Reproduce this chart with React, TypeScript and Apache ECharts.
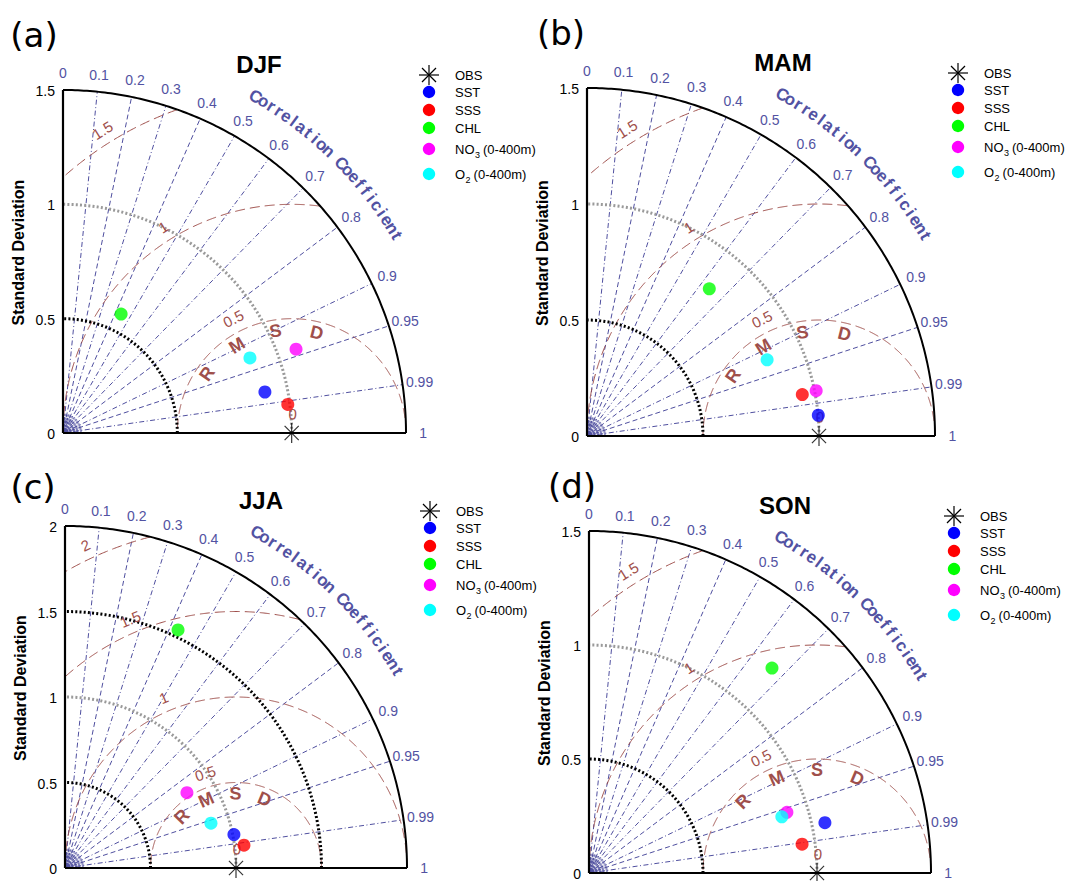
import React, { useEffect, useRef } from 'react';
import * as echarts from 'echarts';

// ---------------- data ----------------
const panelLabels = ['(a)', '(b)', '(c)', '(d)'];
const seasons = ['DJF', 'MAM', 'JJA', 'SON'];
const variableNames = ['SST', 'SSS', 'CHL', 'NO3', 'O2'];
const variableColors = ['#0000ff', '#ff0000', '#00ff00', '#ff00ff', '#00ffff'];
const obsName = 'OBS';
const obsStd = 1;
const stdMax = [1.5, 1.5, 2, 1.5];
const stdTicksSmall = [0, 0.5, 1, 1.5];
const stdTicksLarge = [0, 0.5, 1, 1.5, 2];
const stdTicks = [stdTicksSmall, stdTicksSmall, stdTicksLarge, stdTicksSmall];
const corrTicks = [0, 0.1, 0.2, 0.3, 0.4, 0.5, 0.6, 0.7, 0.8, 0.9, 0.95, 0.99, 1];
const corrTickLabels = ['0', '0.1', '0.2', '0.3', '0.4', '0.5', '0.6', '0.7', '0.8', '0.9', '0.95', '0.99', '1'];
const rmsdSmall = [0.5, 1, 1.5];
const rmsdLarge = [0.5, 1, 1.5, 2];
const rmsdLevels = [rmsdSmall, rmsdSmall, rmsdLarge, rmsdSmall];

// standard deviation (normalised) and correlation for SST, SSS, CHL, NO3, O2
const djfStd = [0.901, 0.991, 0.579, 1.083, 0.881];
const djfCorr = [0.980, 0.992, 0.439, 0.941, 0.928];
const mamStd = [1.001, 0.945, 0.825, 1.007, 0.843];
const mamCorr = [0.996, 0.982, 0.639, 0.981, 0.921];
const jjaStd = [1.007, 1.055, 1.541, 0.838, 0.893];
const jjaCorr = [0.981, 0.992, 0.429, 0.851, 0.956];
const sonStd = [1.058, 0.943, 1.205, 0.908, 0.881];
const sonCorr = [0.978, 0.991, 0.666, 0.956, 0.960];
const panelStd = [djfStd, mamStd, jjaStd, sonStd];
const panelCorr = [djfCorr, mamCorr, jjaCorr, sonCorr];

// legend labels: [base, subscript, suffix]
const legendLabels = [
  [obsName, '', ''],
  ['SST', '', ''],
  ['SSS', '', ''],
  ['CHL', '', ''],
  ['NO', '3', '(0-400m)'],
  ['O', '2', '(0-400m)'],
];

// ---------------- layout / style ----------------
const gridLeft = [63, 587, 65, 589];
const gridTop = [90, 88, 526, 531];
const gridSide = [343, 348, 342, 342];
const panelLabelPos = [[34, 35], [561, 33], [33, 487], [572, 486]];
const rmsdLabelAngles = [[117, 122, 122], [116, 122, 122], [108, 113, 113, 115], [116, 122, 122]];
const rmsdLetterStart = [145, 145, 136.5, 136];
const legendRowDy = [-15, 2, 20, 38, 59, 84];

const FONT = '"Liberation Sans", Arial, Helvetica, sans-serif';
const LINE_BLUE = '#4f4f9f';
const LABEL_BLUE = '#5252a2';
const BROWN = '#9f4f4b';

let measureCtx: CanvasRenderingContext2D | null = null;
function textWidth(t: string, font: string) {
  if (!measureCtx) measureCtx = document.createElement('canvas').getContext('2d');
  if (!measureCtx) return t.length * 7;
  measureCtx.font = font;
  return measureCtx.measureText(t).width;
}

function furniture(p: number) {
  return (_params: any, api: any) => {
    const o = api.coord([0, 0]);
    const unit = api.coord([1, 0])[0] - o[0];
    const Rm = stdMax[p];
    const R = Rm * unit;
    const obs = api.coord([obsStd, 0]);
    const rad = (d: number) => (d * Math.PI) / 180;
    const at = (c: number[], r: number, deg: number) => [c[0] + r * Math.cos(rad(deg)), c[1] - r * Math.sin(rad(deg))];
    const els: any[] = [];
    const line = (a: number[], b: number[], stroke: string, lineWidth: number, lineDash?: number[]) =>
      els.push({ type: 'line', shape: { x1: a[0], y1: a[1], x2: b[0], y2: b[1] }, style: { stroke, lineWidth, lineDash, fill: 'none' } });
    const poly = (points: number[][], stroke: string, lineWidth: number, lineDash?: number[]) =>
      els.push({ type: 'polyline', shape: { points }, style: { stroke, lineWidth, lineDash, fill: 'none' } });
    const text = (pos: number[], str: string, font: string, fill: string, align = 'center', rotDeg = 0, vAlign = 'middle') =>
      els.push({
        type: 'text', x: pos[0], y: pos[1], rotation: rad(rotDeg),
        style: { text: str, font, fill, align, verticalAlign: vAlign, textAlign: align, textVerticalAlign: vAlign },
      });

    // fan near origin
    for (let d = 0; d <= 90; d += 3) line(at(o, 3, d), at(o, 20, d), LINE_BLUE, 0.7, [2, 1.5]);
    els.push({ type: 'sector', shape: { cx: o[0], cy: o[1], r0: 0, r: 6, startAngle: -Math.PI / 2, endAngle: 0, clockwise: true }, style: { fill: LINE_BLUE } });

    // correlation lines
    corrTicks.forEach((c, i) => {
      if (c <= 0 || c >= 1) return;
      const deg = (Math.acos(c) * 180) / Math.PI;
      const dashed = i === 2 || i === 4 || i === 8 || i === 10;
      line(o, at(o, R, deg), LINE_BLUE, 1, dashed ? [5, 3] : [5, 2.5, 1, 2.5]);
    });

    // RMSD arcs
    rmsdLevels[p].forEach((L) => {
      const pts: number[][] = [];
      for (let f = 0; f <= 180; f += 0.25) {
        const x = obsStd + L * Math.cos(rad(f));
        const y = L * Math.sin(rad(f));
        if (x >= -1e-9 && x * x + y * y <= Rm * Rm + 1e-9) pts.push(api.coord([x, y]));
      }
      poly(pts, BROWN, 1, [10, 5]);
    });

    // std arcs
    stdTicks[p].forEach((s) => {
      if (s <= 0 || s >= Rm) return;
      const pts: number[][] = [];
      for (let d = 0; d <= 90; d += 1) pts.push(at(o, s * unit, d));
      poly(pts, s === obsStd ? '#9a9a9a' : '#000000', 3, [2, 2.2]);
    });

    // outer arc and axes
    const outer: number[][] = [];
    for (let d = 0; d <= 90; d += 0.5) outer.push(at(o, R, d));
    poly(outer, '#000', 2);
    line(o, at(o, R, 90), '#000', 2.2);
    line(o, at(o, R, 0), '#000', 2.2);

    // std labels
    stdTicks[p].forEach((s) => text([o[0] - 8, o[1] - s * unit + 1], String(s), `14px ${FONT}`, '#000', 'right'));
    text([o[0] - 45, o[1] - R / 2 - 9], 'Standard Deviation', `bold 16px ${FONT}`, '#000', 'center', 90);

    // correlation labels
    corrTicks.forEach((c, i) => {
      const deg = (Math.acos(c) * 180) / Math.PI;
      text(at(o, 1.05 * R, deg), corrTickLabels[i], `14px ${FONT}`, LABEL_BLUE);
    });
    const title = 'Correlation Coefficient'.split('');
    const step = (60.2 - 30.6) / (title.length - 1);
    title.forEach((ch, k) => {
      const deg = 60.2 - k * step;
      text(at(o, 1.13 * R, deg), ch, `bold 17px ${FONT}`, LABEL_BLUE, 'center', deg - 90);
    });

    // RMSD labels
    rmsdLevels[p].forEach((L, j) => {
      const th = rmsdLabelAngles[p][j];
      text(at(obs, L * unit + 14, th), String(L), `15px ${FONT}`, BROWN, 'center', th - 90);
    });
    'RMSD'.split('').forEach((ch, k) => {
      const th = rmsdLetterStart[p] - 23 * k;
      text(at(obs, 0.5 * unit - 11, th), ch, `bold 18px ${FONT}`, BROWN, 'center', th - 90);
    });
    text(at(obs, 19, 87), '0', `15px ${FONT}`, BROWN, 'center', -3);

    // panel title
    text([o[0] + 196, o[1] - R - 26], seasons[p], `bold 24px ${FONT}`, '#000');

    // legend
    const lx = o[0] + R + 23;
    const tx = o[0] + R + 49;
    const top = o[1] - R;
    const sy = top + legendRowDy[0];
    line([lx, sy - 10], [lx, sy + 10], '#000', 1.2);
    line([lx - 10, sy], [lx + 10, sy], '#000', 1.2);
    line([lx - 7, sy - 7], [lx + 7, sy + 7], '#000', 1.2);
    line([lx - 7, sy + 7], [lx + 7, sy - 7], '#000', 1.2);
    variableNames.forEach((_n, v) => {
      els.push({ type: 'circle', shape: { cx: lx, cy: top + legendRowDy[v + 1], r: 6.2 }, style: { fill: variableColors[v] } });
    });
    legendLabels.forEach((lab, r) => {
      const y = top + legendRowDy[r];
      const f = `13px ${FONT}`;
      text([tx, y], lab[0], f, '#000', 'left');
      if (lab[1]) {
        const w = textWidth(lab[0], f);
        const fs = `9px ${FONT}`;
        text([tx + w + 0.5, y + 6], lab[1], fs, '#000', 'left');
        const ws = textWidth(lab[1], fs);
        text([tx + w + ws + 3.5, y], lab[2], f, '#000', 'left');
      }
    });

    return { type: 'group', children: els };
  };
}

function buildOption() {
  const idx = [0, 1, 2, 3];
  const series: any[] = [];
  idx.forEach((p) => {
    series.push({
      type: 'custom', coordinateSystem: 'cartesian2d', xAxisIndex: p, yAxisIndex: p,
      data: [[0, 0]], renderItem: furniture(p), clip: false, silent: true, z: 1,
    });
    series.push({
      type: 'scatter', name: obsName, xAxisIndex: p, yAxisIndex: p, clip: false, z: 3,
      symbol: 'path://M10 0L10 20M0 10L20 10M2.93 2.93L17.07 17.07M2.93 17.07L17.07 2.93',
      symbolSize: 20,
      itemStyle: { color: 'rgba(0,0,0,0)', borderColor: '#000', borderWidth: 1.2 },
      data: [[obsStd, 0]],
    });
    series.push({
      type: 'scatter', name: seasons[p], xAxisIndex: p, yAxisIndex: p, clip: false, z: 4,
      symbol: 'circle', symbolSize: 13,
      data: panelStd[p].map((s, i) => {
        const c = panelCorr[p][i];
        return { value: [s * c, s * Math.sqrt(1 - c * c)], itemStyle: { color: variableColors[i] } };
      }),
    });
  });
  return {
    animation: false,
    backgroundColor: '#ffffff',
    grid: idx.map((p) => ({ left: gridLeft[p], top: gridTop[p], width: gridSide[p], height: gridSide[p], containLabel: false })),
    xAxis: idx.map((p) => ({ type: 'value', gridIndex: p, min: 0, max: stdMax[p], show: false })),
    yAxis: idx.map((p) => ({ type: 'value', gridIndex: p, min: 0, max: stdMax[p], show: false })),
    graphic: idx.map((p) => ({
      type: 'text', x: panelLabelPos[p][0], y: panelLabelPos[p][1],
      style: {
        text: panelLabels[p], font: '34px "DejaVu Sans", sans-serif', fill: '#000',
        textAlign: 'center', textVerticalAlign: 'middle', align: 'center', verticalAlign: 'middle',
      },
    })),
    series,
  };
}

export default function App() {
  const ref = useRef<HTMLDivElement>(null);
  useEffect(() => {
    if (!ref.current) return;
    const chart = echarts.init(ref.current, null, { renderer: 'svg' });
    chart.setOption(buildOption() as any);
    return () => chart.dispose();
  }, []);
  return <div ref={ref} style={{ position: 'absolute', left: 0, top: 0, width: 1070, height: 881, background: '#fff' }} />;
}
